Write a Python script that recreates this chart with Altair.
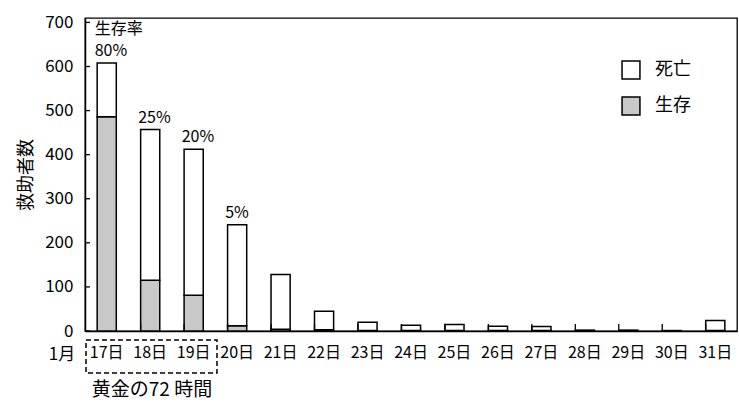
import altair as alt
import pandas as pd

# ---- data ----
days = ["17日", "18日", "19日", "20日", "21日", "22日", "23日", "24日",
        "25日", "26日", "27日", "28日", "29日", "30日", "31日"]
survived = [486, 115, 81, 12, 4, 3, 1, 1, 1, 1, 1, 0, 0, 0, 1]
died = [122, 342, 331, 229, 124, 42, 19, 12, 14, 10, 9, 2, 2, 1, 23]
rate_days = ["17日", "18日", "19日", "20日"]
rate_labels = ["80%", "25%", "20%", "5%"]
rate_tops = [608, 457, 412, 241]
y_ticks = [0, 100, 200, 300, 400, 500, 600, 700]
series = ["死亡", "生存"]

FONT = "Noto Sans CJK JP"
W, H = 652, 313

rows = []
for d, s, k in zip(days, survived, died):
    rows.append({"day": d, "status": "生存", "n": s, "ord": 0})
    rows.append({"day": d, "status": "死亡", "n": k, "ord": 1})
df = pd.DataFrame(rows)

xscale = alt.Scale(domain=days, paddingInner=0.56, paddingOuter=0.28)
yscale = alt.Scale(domain=[0, 710], nice=False)

bars = alt.Chart(df).mark_bar(stroke="black", strokeWidth=1.5).encode(
    x=alt.X("day:N", scale=xscale, sort=days,
            axis=alt.Axis(title=None, labelAngle=0, ticks=False, labelPadding=13,
                          labelFontSize=16, labelColor="black", domainColor="black",
                          domainWidth=1.5, labelFont=FONT)),
    y=alt.Y("n:Q", stack="zero", scale=yscale,
            axis=alt.Axis(title="救助者数", values=y_ticks, ticks=False, grid=False,
                          labelFontSize=17, labelColor="black", labelPadding=12,
                          domainColor="black", domainWidth=1.5, labelFont=FONT,
                          titleFont=FONT, titleFontSize=18, titleFontWeight="normal",
                          titleColor="black", titlePadding=9)),
    fill=alt.Color("status:N",
                   scale=alt.Scale(domain=series, range=["white", "#c8c8c8"]),
                   legend=alt.Legend(title=None, orient="none", legendX=536, legendY=42,
                                     symbolType="square", symbolSize=320,
                                     symbolStrokeColor="black", symbolStrokeWidth=1.5,
                                     labelFontSize=18, labelFont=FONT, labelColor="black",
                                     labelOffset=14, rowPadding=12)),
    order=alt.Order("ord:Q"),
)

# inward x ticks at band boundaries
xt = alt.Chart(pd.DataFrame({"day": days[1:]})).mark_rule(color="black", strokeWidth=1.3).encode(
    x=alt.X("day:N", scale=xscale, sort=days, bandPosition=0),
    y=alt.value(H), y2=alt.value(H - 7),
)

# inward y ticks
yt = alt.Chart(pd.DataFrame({"v": y_ticks})).mark_rule(color="black", strokeWidth=1.3).encode(
    y=alt.Y("v:Q", scale=yscale), x=alt.value(0), x2=alt.value(5),
)

rates = pd.DataFrame({"day": rate_days, "lab": rate_labels, "top": rate_tops})
rate_text = alt.Chart(rates).mark_text(align="left", baseline="middle", dx=-12, dy=-12,
                                       fontSize=16, font=FONT, color="black").encode(
    x=alt.X("day:N", scale=xscale, sort=days),
    y=alt.Y("top:Q", scale=yscale),
    text="lab:N",
)
rate_title = alt.Chart(rates.iloc[[0]]).mark_text(align="left", baseline="middle", dx=-12, dy=-34,
                                                  fontSize=16, font=FONT, color="black").encode(
    x=alt.X("day:N", scale=xscale, sort=days),
    y=alt.Y("top:Q", scale=yscale),
    text=alt.value("生存率"),
)

one = pd.DataFrame({"a": [0]})
month = alt.Chart(one).mark_text(fontSize=17, font=FONT, color="black", baseline="middle").encode(
    x=alt.value(-23), y=alt.value(337), text=alt.value("1月"))
box = alt.Chart(one).mark_rect(fill=None, stroke="black", strokeWidth=1.5,
                               strokeDash=[5, 3]).encode(
    x=alt.value(1), x2=alt.value(132), y=alt.value(322), y2=alt.value(355))
golden = alt.Chart(one).mark_text(fontSize=19, font=FONT, color="black", baseline="middle").encode(
    x=alt.value(67), y=alt.value(372), text=alt.value("黄金の72 時間"))

chart = alt.layer(bars, xt, yt, rate_text, rate_title, month, box, golden).properties(
    width=W, height=H,
    padding={"left": 85, "top": 18, "right": 2, "bottom": 72},
    autosize=alt.AutoSizeParams(type="none"),
    background="white",
).configure_view(stroke="black", strokeWidth=1.3)

chart.save("out.html", embed_options={"renderer": "svg", "actions": False})
